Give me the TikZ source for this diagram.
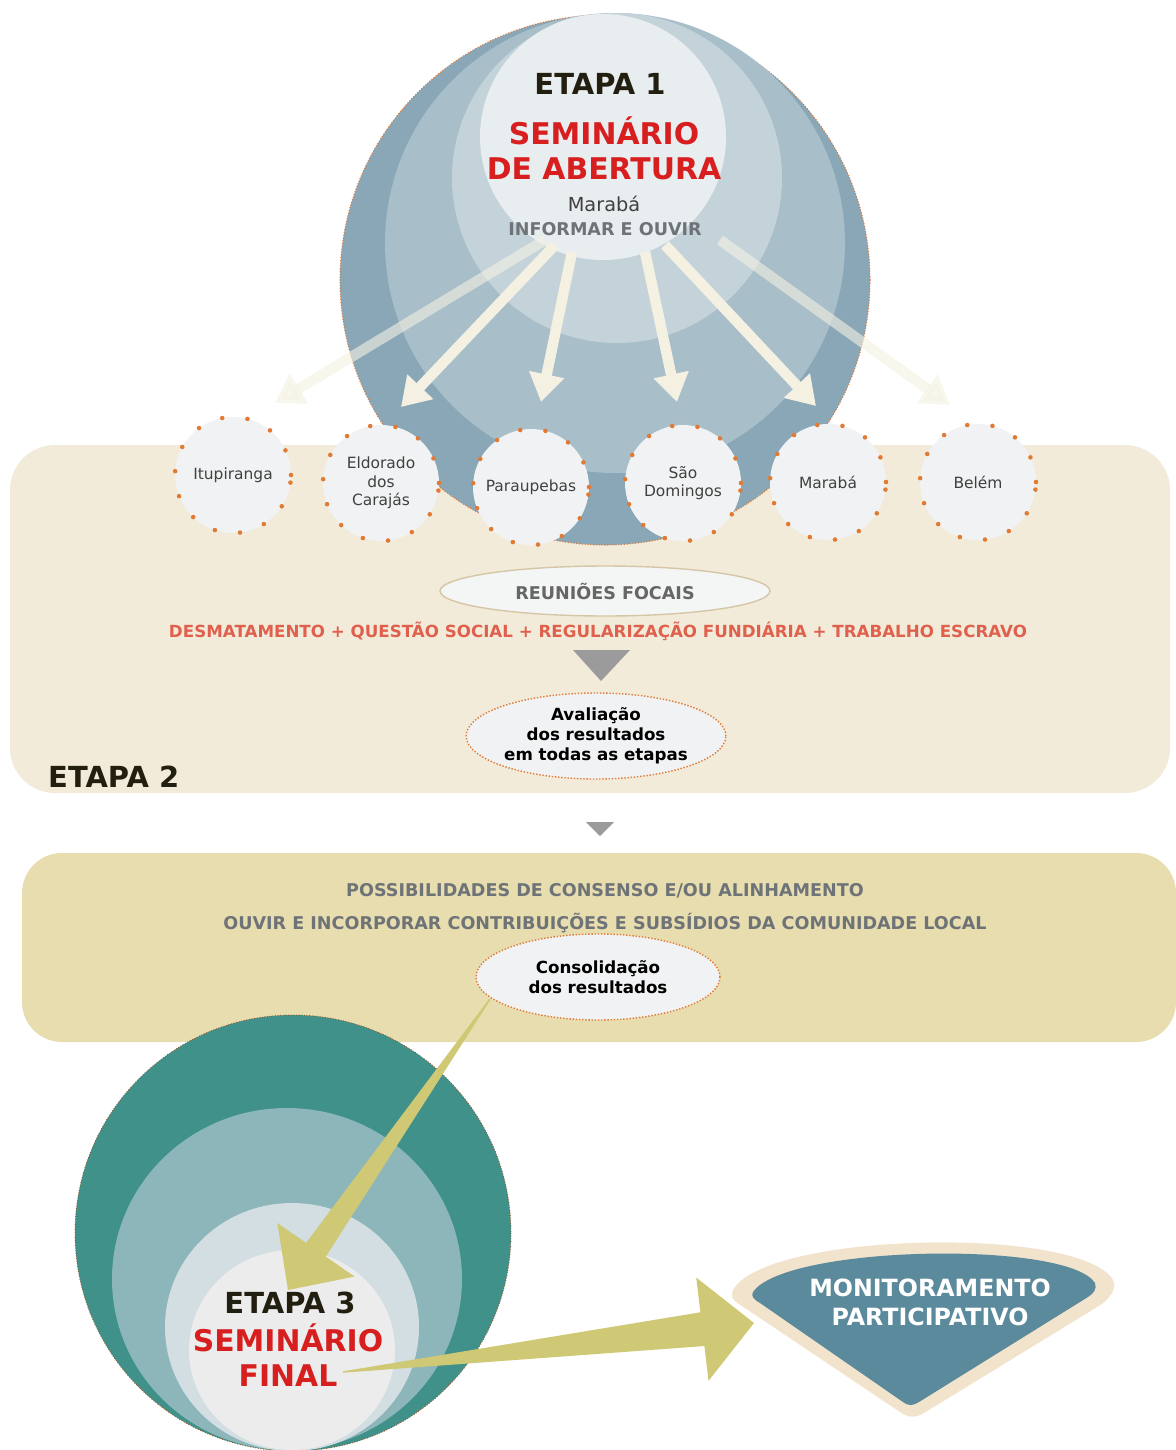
\documentclass[tikz,border=0pt]{standalone}
\usepackage{fontspec}
\setmainfont{DejaVu Sans}
\usetikzlibrary{arrows.meta,calc,positioning,shapes.geometric}

\definecolor{ringA}{HTML}{8AA7B7}
\definecolor{ringB}{HTML}{A8BEC9}
\definecolor{ringC}{HTML}{C4D3DA}
\definecolor{ringD}{HTML}{E8EDEF}
\definecolor{dotorange}{HTML}{E07A35}
\definecolor{bandlight}{HTML}{F2EBD9}
\definecolor{bandkhaki}{HTML}{E8DDAE}
\definecolor{townfill}{HTML}{F1F2F3}
\definecolor{beamcream}{HTML}{F4F1E3}
\definecolor{tealA}{HTML}{3F9189}
\definecolor{tealB}{HTML}{8CB6BA}
\definecolor{tealC}{HTML}{D3DEE2}
\definecolor{tealD}{HTML}{ECECEC}
\definecolor{olive}{HTML}{CFC875}
\definecolor{monfill}{HTML}{5A8A9B}
\definecolor{monrim}{HTML}{F2E3CD}
\definecolor{titlered}{HTML}{D81F1F}
\definecolor{topicred}{HTML}{E0604E}
\definecolor{greytext}{HTML}{6E7378}
\definecolor{arrowgrey}{HTML}{9B9B9B}
\definecolor{darktext}{HTML}{231F10}
\definecolor{tanline}{HTML}{D5C6A6}

\newcommand{\wedgearrow}[6]{%
  \path ($(#2)!#5!(#1)$) coordinate (WB);
  \fill[#6] ($(#1)!0.4pt!90:(#2)$) -- ($(WB)!#3!90:(#2)$) -- ($(WB)!#4!90:(#2)$) -- (#2)
    -- ($(WB)!#4!-90:(#2)$) -- ($(WB)!#3!-90:(#2)$) -- ($(#1)!0.4pt!-90:(#2)$) -- cycle;}

\tikzset{
  town/.style={circle, fill=townfill, minimum size=2.32cm, inner sep=0pt, align=center,
    text=black!75, font=\fontsize{8.8}{10.5}\selectfont,
    draw=dotorange, line width=2.6pt, line cap=round, dash pattern=on 0pt off 14.5pt},
  beam/.style={draw=beamcream, line width=0.21cm, -{Triangle[width=0.68cm,length=0.56cm]}},
  stagetitle/.style={text=darktext, font=\bfseries\fontsize{16.5}{20}\selectfont},
  seminar/.style={text=titlered, align=center, font=\bfseries\fontsize{17}{20}\selectfont},
  result/.style={ellipse, fill=townfill, draw=dotorange, densely dotted, line width=0.8pt,
    align=center, inner sep=0pt, font=\bfseries\fontsize{9.5}{11.3}\selectfont},
  caption/.style={text=greytext, font=\bfseries\fontsize{10}{12}\selectfont}
}

\begin{document}
\begin{tikzpicture}[x=0.02cm,y=-0.02cm]
\useasboundingbox (0,0) rectangle (1176,1450);
\clip (0,0) rectangle (1176,1450);

\fill[bandlight, rounded corners=0.9cm] (10,445) rectangle (1170,793);
\fill[bandkhaki, rounded corners=0.8cm] (22,853) rectangle (1176,1042);

\fill[ringA] (605,280) circle (265);
\draw[dotorange, densely dotted, line width=0.6pt] (605,280) circle (265);
\fill[ringB] (615,243) circle (230);
\fill[ringC] (617,178) circle (165);
\fill[ringD] (603,137) circle (123);

\node[stagetitle] (E1) at (600,84) {ETAPA 1};
\node[seminar] (SEM1) at (604,148) {SEMINÁRIO\\DE ABERTURA};
\node[text=black!75, font=\fontsize{11}{13}\selectfont] (MAB) at (604,204) {Marabá};
\node[caption] (HUB) at (605,229) {INFORMAR E OUVIR};

\node[town] (ITU) at (233,475) {Itupiranga};
\node[town] (ELD) at (381,483) {Eldorado\\dos\\Carajás};
\node[town] (PAR) at (531,487) {Paraupebas};
\node[town] (SAO) at (683,483) {São\\Domingos};
\node[town] (MAR) at (828,482) {Marabá};
\node[town] (BEL) at (978,482) {Belém};

\coordinate (S1) at (545,240); \coordinate (T1) at (275,403);
\coordinate (S2) at (555,245); \coordinate (T2) at (401,407);
\coordinate (S3) at (572,252); \coordinate (T3) at (541,402);
\coordinate (S4) at (645,252); \coordinate (T4) at (677,402);
\coordinate (S5) at (665,245); \coordinate (T5) at (816,406);
\coordinate (S6) at (720,240); \coordinate (T6) at (950,405);
\draw[beam, opacity=.6] (S1) -- (T1);
\draw[beam] (S2) -- (T2);
\draw[beam] (S3) -- (T3);
\draw[beam] (S4) -- (T4);
\draw[beam] (S5) -- (T5);
\draw[beam, opacity=.6] (S6) -- (T6);

\node[ellipse, fill=townfill!80!white, draw=tanline, line width=0.8pt, minimum width=6.6cm, minimum height=1cm,
  caption, text=black!60] (FOC) at (605,591) {REUNIÕES FOCAIS};
\node[text=topicred, font=\bfseries\fontsize{9.5}{11}\selectfont] (TOP) at (598,631)
  {DESMATAMENTO + QUESTÃO SOCIAL + REGULARIZAÇÃO FUNDIÁRIA + TRABALHO ESCRAVO};
\fill[arrowgrey] (573,650) -- (630,650) -- (601,681) -- cycle;
\node[result, minimum width=4.92cm, minimum height=1.72cm] (AVAL) at (596,736)
  {Avaliação\\dos resultados\\em todas as etapas};
\node[stagetitle, anchor=west] (E2) at (42,777) {ETAPA 2};

\fill[arrowgrey] (586,822) -- (614,822) -- (600,836) -- cycle;

\node[caption] (CON) at (605,891) {POSSIBILIDADES DE CONSENSO E/OU ALINHAMENTO};
\node[caption] (OUV) at (605,923) {OUVIR E INCORPORAR CONTRIBUIÇÕES E SUBSÍDIOS DA COMUNIDADE LOCAL};
\node[result, minimum width=4.88cm, minimum height=1.72cm] (CONS) at (598,977)
  {Consolidação\\dos resultados};

\fill[tealA] (293,1233) ellipse [x radius=218, y radius=218];
\draw[dotorange!70!black, densely dotted, line width=0.5pt] (293,1233) ellipse [x radius=218, y radius=218];
\fill[tealB] (287,1279) ellipse [x radius=175, y radius=171];
\fill[tealC] (292,1327) ellipse [x radius=127, y radius=124];
\fill[tealD] (292,1350) ellipse [x radius=103, y radius=100];

\node[stagetitle] (E3) at (290,1303) {ETAPA 3};
\node[seminar] (SEM3) at (288,1355) {SEMINÁRIO\\FINAL};

\coordinate (Y1S) at (490,999); \coordinate (Y1E) at (288,1290);
\wedgearrow{Y1S}{Y1E}{0.24cm}{0.94cm}{0.98cm}{olive}

\fill[monrim] (733,1290) .. controls (765,1232) and (1080,1225) .. (1113,1280)
  .. controls (1117,1290) and (1110,1297) .. (1102,1304) -- (924,1413)
  .. controls (916,1418) and (908,1418) .. (900,1412) -- (742,1306)
  .. controls (732,1300) and (730,1296) .. (733,1290) -- cycle;
\fill[monfill] (753,1292) .. controls (785,1245) and (1068,1240) .. (1095,1283)
  .. controls (1097,1289) and (1094,1293) .. (1088,1297) -- (919,1402)
  .. controls (913,1406) and (908,1406) .. (903,1402) -- (760,1303)
  .. controls (753,1299) and (751,1296) .. (753,1292) -- cycle;
\node[text=white, align=center, font=\bfseries\fontsize{13.5}{16.5}\selectfont] (MON) at (930,1302)
  {MONITORAMENTO\\PARTICIPATIVO};

\coordinate (Y2S) at (343,1372); \coordinate (Y2E) at (754,1323);
\wedgearrow{Y2S}{Y2E}{0.34cm}{1.04cm}{1.04cm}{olive}
\end{tikzpicture}
\end{document}
